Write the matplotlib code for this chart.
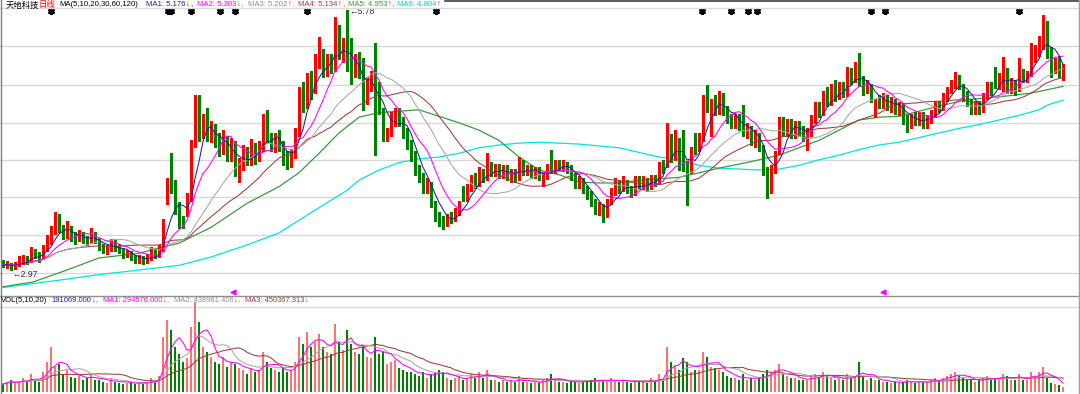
import numpy as np
import pandas as pd
import matplotlib
matplotlib.use("Agg")
import matplotlib.pyplot as plt
from matplotlib.lines import Line2D

# ---------------- data ----------------
opens = [3.05,3.02,3.04,3.00,3.03,3.05,3.10,3.07,3.17,3.12,
         3.10,3.20,3.30,3.40,3.50,3.42,3.35,3.40,3.33,3.30,
         3.36,3.30,3.28,3.34,3.30,3.22,3.18,3.20,3.28,3.22,
         3.17,3.14,3.16,3.10,3.08,3.10,3.07,3.10,3.15,3.12,
         3.20,3.72,4.14,3.90,3.66,3.50,3.58,3.76,4.35,4.80,
         4.45,4.62,4.40,4.50,4.35,4.28,4.38,4.20,4.30,4.02,
         4.10,4.25,4.15,4.30,4.20,4.28,4.60,4.40,4.30,4.40,
         4.32,4.15,4.12,4.20,4.45,4.90,4.75,5.05,4.90,5.20,
         5.32,5.10,5.25,5.15,5.55,5.30,5.50,5.35,5.08,5.25,
         5.20,4.80,4.98,5.10,4.95,4.70,4.40,4.45,4.55,4.68,
         4.58,4.45,4.32,4.20,4.05,3.98,3.84,3.90,3.70,3.55,
         3.50,3.48,3.55,3.52,3.60,3.86,3.76,3.85,3.95,3.90,
         4.02,3.96,4.10,4.02,4.08,4.00,4.06,3.98,4.02,3.96,
         4.14,4.04,4.06,4.00,4.05,3.92,3.98,4.20,4.06,4.12,
         4.08,4.12,4.06,3.98,3.90,3.94,3.84,3.78,3.70,3.62,
         3.66,3.56,3.70,3.82,3.90,3.84,3.92,3.84,3.80,3.92,
         3.88,3.94,3.86,3.96,3.92,4.10,4.10,4.40,4.18,4.38,
         4.44,4.10,4.05,4.42,4.28,4.40,4.85,4.45,4.82,4.68,
         4.85,4.70,4.60,4.54,4.62,4.70,4.46,4.50,4.38,4.42,
         4.30,4.05,3.82,4.05,4.24,4.58,4.46,4.56,4.45,4.55,
         4.48,4.40,4.45,4.60,4.72,4.66,4.92,4.78,4.92,4.85,
         4.95,4.88,5.10,5.02,5.24,5.00,4.92,4.96,4.70,4.80,
         4.76,4.82,4.74,4.80,4.70,4.74,4.60,4.52,4.62,4.58,
         4.64,4.54,4.60,4.66,4.76,4.72,4.84,4.92,4.98,5.06,
         4.96,4.86,4.78,4.72,4.76,4.70,4.84,4.96,5.12,4.98,
         4.92,5.12,4.92,4.98,4.92,5.12,5.04,5.10,5.26,5.32,
         5.40,5.62,5.34,5.14,5.22,5.08]
closes = [3.02,3.04,3.00,3.03,3.05,3.10,3.07,3.18,3.12,3.10,
          3.20,3.30,3.38,3.50,3.42,3.35,3.40,3.33,3.30,3.36,
          3.30,3.28,3.34,3.30,3.22,3.18,3.20,3.28,3.22,3.17,
          3.14,3.16,3.10,3.08,3.10,3.07,3.10,3.15,3.12,3.20,
          3.51,3.92,3.86,3.62,3.48,3.46,3.76,4.33,4.75,4.40,
          4.55,4.40,4.52,4.35,4.28,4.38,4.20,4.30,4.02,4.10,
          4.25,4.15,4.30,4.20,4.28,4.60,4.40,4.30,4.40,4.30,
          4.15,4.12,4.22,4.45,4.90,4.75,5.05,4.90,5.20,5.32,
          5.10,5.25,5.15,5.60,5.30,5.42,5.16,5.02,5.25,5.10,
          4.75,4.98,5.05,4.80,4.70,4.40,4.44,4.62,4.68,4.58,
          4.45,4.32,4.20,4.05,3.98,3.85,3.90,3.70,3.55,3.50,
          3.47,3.55,3.52,3.60,3.68,3.76,3.85,3.95,3.90,4.02,
          3.96,4.10,4.02,4.08,4.00,4.06,3.98,4.02,3.96,4.14,
          4.04,4.06,4.00,4.05,3.98,3.98,4.04,4.06,4.12,4.08,
          4.12,4.06,3.98,3.90,3.94,3.84,3.78,3.70,3.62,3.66,
          3.56,3.70,3.82,3.90,3.84,3.92,3.84,3.80,3.92,3.88,
          3.94,3.86,3.96,3.92,4.10,4.06,4.52,4.18,4.38,4.10,
          4.08,4.05,4.25,4.28,4.40,4.80,4.72,4.78,4.68,4.85,
          4.70,4.60,4.54,4.62,4.52,4.46,4.50,4.38,4.42,4.30,
          4.05,3.85,4.05,4.22,4.58,4.46,4.56,4.45,4.55,4.48,
          4.40,4.45,4.60,4.72,4.66,4.85,4.78,4.92,4.85,4.95,
          4.88,5.10,5.02,5.15,5.00,4.92,4.96,4.82,4.80,4.76,
          4.82,4.74,4.80,4.70,4.74,4.60,4.52,4.62,4.58,4.64,
          4.54,4.60,4.66,4.76,4.72,4.84,4.92,4.98,5.06,4.96,
          4.86,4.78,4.72,4.76,4.70,4.84,4.96,4.90,4.98,5.05,
          5.20,4.92,4.98,4.92,5.12,5.04,5.08,5.36,5.32,5.45,
          5.62,5.30,5.18,5.22,5.12,5.15]
highs = [3.08,3.07,3.05,3.06,3.12,3.13,3.12,3.22,3.20,3.16,
         3.24,3.35,3.45,3.60,3.58,3.46,3.50,3.44,3.38,3.40,
         3.38,3.34,3.42,3.38,3.32,3.25,3.24,3.31,3.30,3.25,
         3.20,3.19,3.18,3.13,3.13,3.12,3.14,3.22,3.20,3.24,
         3.52,3.96,4.23,3.94,3.70,3.55,3.80,4.37,4.86,4.86,
         4.65,4.72,4.58,4.55,4.45,4.48,4.42,4.40,4.36,4.18,
         4.32,4.30,4.38,4.34,4.36,4.66,4.70,4.45,4.45,4.48,
         4.36,4.25,4.28,4.50,4.95,5.00,5.10,5.12,5.30,5.49,
         5.36,5.30,5.30,5.70,5.62,5.48,5.78,5.48,5.30,5.32,
         5.26,5.05,5.12,5.42,5.00,4.72,4.50,4.68,4.72,4.72,
         4.62,4.50,4.37,4.25,4.10,4.02,3.96,3.92,3.72,3.60,
         3.55,3.58,3.60,3.64,3.72,3.88,3.90,4.00,4.02,4.08,
         4.06,4.23,4.14,4.12,4.12,4.10,4.10,4.06,4.06,4.19,
         4.16,4.10,4.10,4.08,4.08,4.02,4.12,4.27,4.16,4.16,
         4.16,4.14,4.10,4.02,3.98,3.96,3.88,3.82,3.74,3.70,
         3.68,3.74,3.86,3.96,3.94,3.98,3.94,3.88,3.98,3.98,
         3.98,3.96,4.00,4.00,4.14,4.16,4.56,4.44,4.48,4.40,
         4.48,4.15,4.30,4.45,4.45,4.86,4.97,4.82,4.86,4.90,
         4.88,4.74,4.66,4.66,4.66,4.75,4.56,4.52,4.48,4.45,
         4.32,4.08,4.10,4.26,4.62,4.62,4.60,4.60,4.58,4.58,
         4.52,4.50,4.64,4.78,4.78,4.90,4.95,4.98,5.02,5.00,
         5.00,5.16,5.15,5.22,5.31,5.06,5.02,4.98,4.82,4.86,
         4.88,4.86,4.84,4.82,4.78,4.76,4.64,4.66,4.68,4.68,
         4.68,4.64,4.70,4.80,4.80,4.88,4.95,5.02,5.11,5.08,
         4.98,4.90,4.82,4.80,4.80,4.88,5.00,5.00,5.16,5.10,
         5.27,5.15,5.04,5.02,5.26,5.14,5.12,5.42,5.40,5.50,
         5.72,5.66,5.38,5.26,5.28,5.20]
lows = [3.00,2.99,2.97,2.98,3.01,3.03,3.04,3.06,3.10,3.06,
        3.09,3.18,3.25,3.36,3.38,3.30,3.32,3.28,3.25,3.28,
        3.26,3.24,3.26,3.26,3.19,3.15,3.14,3.18,3.18,3.15,
        3.10,3.11,3.08,3.05,3.05,3.04,3.05,3.08,3.10,3.11,
        3.18,3.68,3.80,3.58,3.42,3.42,3.55,3.72,4.30,4.36,
        4.40,4.36,4.35,4.30,4.20,4.22,4.15,4.15,3.98,3.92,
        4.05,4.10,4.10,4.12,4.15,4.25,4.35,4.25,4.24,4.25,
        4.10,4.06,4.08,4.18,4.42,4.68,4.72,4.82,4.88,5.15,
        5.05,5.06,5.10,5.12,5.25,5.22,5.12,4.98,5.05,5.04,
        4.70,4.76,4.90,4.21,4.66,4.36,4.36,4.42,4.52,4.52,
        4.40,4.28,4.15,4.00,3.92,3.80,3.80,3.65,3.50,3.44,
        3.41,3.45,3.48,3.50,3.56,3.72,3.72,3.82,3.86,3.88,
        3.92,3.94,3.98,3.98,3.96,3.96,3.94,3.92,3.92,3.94,
        4.00,4.00,3.96,3.96,3.94,3.88,3.95,4.02,4.02,4.04,
        4.04,4.02,3.94,3.86,3.86,3.80,3.74,3.66,3.58,3.56,
        3.49,3.54,3.68,3.78,3.80,3.82,3.80,3.76,3.78,3.84,
        3.84,3.82,3.84,3.88,3.90,4.02,4.08,4.14,4.16,4.05,
        4.04,3.67,4.02,4.22,4.25,4.36,4.68,4.42,4.64,4.65,
        4.64,4.56,4.50,4.50,4.48,4.42,4.40,4.32,4.30,4.26,
        4.00,3.75,3.80,4.02,4.22,4.42,4.42,4.40,4.40,4.42,
        4.36,4.27,4.42,4.56,4.62,4.64,4.74,4.75,4.80,4.82,
        4.84,4.85,4.98,5.00,4.96,4.86,4.88,4.78,4.62,4.72,
        4.72,4.70,4.68,4.66,4.64,4.55,4.46,4.50,4.54,4.54,
        4.50,4.50,4.56,4.62,4.68,4.70,4.80,4.88,4.94,4.92,
        4.80,4.74,4.66,4.66,4.65,4.68,4.82,4.86,4.94,4.92,
        4.90,4.88,4.88,4.86,4.90,5.00,5.00,5.06,5.22,5.28,
        5.36,5.26,5.05,5.10,5.05,5.02]
# volume in 10,000 lots
volumes_wan = [28,35,42,32,35,49,35,63,42,35,
               70,105,158,88,98,63,77,53,49,56,
               42,49,63,42,42,35,32,49,35,32,
               28,32,35,28,32,28,35,49,35,56,
               193,252,217,158,133,105,119,228,315,245,
               158,140,123,105,98,123,88,105,98,84,
               77,63,84,70,77,140,105,84,77,70,
               84,70,77,105,193,168,210,158,175,203,
               158,140,133,238,175,147,217,168,140,133,
               158,123,119,193,133,140,98,105,112,84,
               77,70,70,63,56,70,49,63,70,77,
               70,49,42,49,56,42,49,63,49,70,
               49,77,42,42,35,42,35,42,35,56,
               35,35,32,35,32,42,49,63,42,35,
               35,32,42,35,32,35,39,42,49,35,
               42,35,49,42,35,42,35,32,42,35,
               35,32,49,35,63,42,158,105,91,77,
               119,105,70,77,77,140,123,88,84,77,
               70,56,49,49,42,63,42,49,42,49,
               63,77,70,77,98,63,56,49,49,42,
               42,42,56,63,49,70,56,49,42,49,
               42,63,49,56,105,56,42,49,42,42,
               35,35,32,35,32,35,42,35,32,35,
               35,35,42,49,42,49,56,63,70,56,
               49,42,42,35,42,49,56,42,49,42,
               63,56,42,42,63,42,42,70,56,70,
               88,49,32,28,25,19.1069]

# long moving averages (earlier history not shown)
ma60_idx = [0,7.5,16,24,34,39,44,52,61,69,74,79,84,89,94,104,114,119,124,129,
            134,139,144,149,154,159,169,174,179,187,194,199,204,209,214,219,224,
            234,241,249,257,265]
ma60_val = [2.79,2.84,2.97,3.10,3.15,3.21,3.26,3.43,3.69,3.87,4.02,4.23,4.45,4.62,
            4.67,4.70,4.56,4.48,4.37,4.19,4.05,4.00,3.92,3.91,3.91,3.94,3.97,4.02,
            4.07,4.14,4.21,4.29,4.37,4.48,4.59,4.62,4.63,4.74,4.81,4.84,4.88,4.953]
ma120_idx = [0,14,24,44,52,61,69,77,86,89,94,99,104,109,114,119,124,129,134,144,
             154,159,164,169,174,179,184,189,194,199,204,209,214,219,224,229,234,
             239,244,249,254,259,261,265]
ma120_val = [2.78,2.86,2.92,3.02,3.11,3.24,3.37,3.59,3.83,3.94,4.05,4.13,4.17,4.19,
             4.23,4.29,4.32,4.34,4.35,4.33,4.29,4.24,4.19,4.16,4.10,4.07,4.06,4.05,
             4.06,4.10,4.16,4.21,4.27,4.32,4.35,4.40,4.45,4.50,4.54,4.59,4.64,4.70,
             4.75,4.804]

event_idx = [12,41.25,42,47,54.25,58,76,108.25,174.75,182,186.25,188.5,217,220.5,254]
flag_idx = [57.5,220]

stock_name = "天地科技"
period = "日线"
ma_title = "MA(5,10,20,30,60,120)"
ma_labels = ["MA1: 5.176", "MA2: 5.303", "MA3: 5.202", "MA4: 5.134", "MA5: 4.953", "MA6: 4.804"]
ma_arrows = ["↓", "↓", "↑", "↑", "↑", "↑"]
vol_title = "VOL(5,10,20)"
vol_labels = ["191069.000", "MA1: 294576.000", "MA2: 438981.406", "MA3: 450367.313"]
vol_arrows = ["↓", "↓", "↓", "↓"]
high_label = "5.78"
low_label = "2.97"

# ---------------- figure ----------------
W, H = 1080, 394
fig = plt.figure(figsize=(W / 100, H / 100), dpi=100)
fig.patch.set_facecolor("white")
renderer = fig.canvas.get_renderer()

MAIN_TOP, MAIN_BOT = 0, 295
VOL_TOP, VOL_BOT = 296, 392
ax = fig.add_axes([0, 1 - MAIN_BOT / H, 1, (MAIN_BOT - MAIN_TOP) / H])
axv = fig.add_axes([0, 1 - VOL_BOT / H, 1, (VOL_BOT - VOL_TOP) / H])
for a in (ax, axv):
    a.set_axis_off()
    a.set_xlim(-0.75, 269.25)

P_BOT, P_TOP = 2.70, 5.886
ax.set_ylim(P_BOT, P_TOP)
def py(ypix):
    return P_TOP - (ypix - MAIN_TOP) * (P_TOP - P_BOT) / (MAIN_BOT - MAIN_TOP)

o = np.array(opens); c = np.array(closes); h = np.array(highs); l = np.array(lows)
v = np.array(volumes_wan)
n = len(c)
x = np.arange(n)

# gridlines
for yp in [46, 85, 123, 160, 197, 235, 273]:
    ax.axhline(py(yp), color="#d8d8d8", lw=1.0, zorder=0)

RED = "#ff0000"
GREEN = "#008000"
up = c >= o
cols = np.where(up, RED, GREEN)

# moving averages
cs = pd.Series(c)
ma5 = cs.rolling(5, min_periods=1).mean()
ma10 = cs.rolling(10, min_periods=1).mean()
ma20 = cs.rolling(20, min_periods=1).mean()
ma30 = cs.rolling(30, min_periods=1).mean()

ax.plot(ma120_idx, ma120_val, color="#00e5e5", lw=0.9, zorder=1)
ax.plot(ma60_idx, ma60_val, color="#3c9a3c", lw=0.9, zorder=1)

# candles
ax.vlines(x, l, h, colors=cols, lw=0.9, zorder=2, antialiased=False)
body_h = np.maximum(np.abs(c - o), 0.006)
ax.bar(x, body_h, bottom=np.minimum(o, c), width=0.7, color=cols,
       linewidth=0, zorder=3, antialiased=False)

ax.plot(x, ma30, color="#a03c3c", lw=0.75, zorder=4)
ax.plot(x, ma20, color="#a8a8a8", lw=0.75, zorder=4)
ax.plot(x, ma10, color="#ff00ff", lw=0.75, zorder=4)
ax.plot(x, ma5, color="#20209a", lw=0.75, zorder=4)

# event markers and flags
ax.plot(event_idx, [py(11)] * len(event_idx), ls="none", marker=(6, 2, 0),
        ms=5, mew=1.6, color="black", zorder=5)
ax.plot(flag_idx, [py(292)] * len(flag_idx), ls="none", marker="<", ms=3.5,
        color="#ff00ff", zorder=5)

FAM = ["Liberation Sans", "DejaVu Sans"]
CJK = ["Noto Sans CJK SC", "DejaVu Sans"]

# high / low labels
ih = int(np.argmax(h)); il = int(np.argmin(l))
ax.text(ih + 0.6, py(12), "←" + high_label, fontsize=6.2, family=FAM,
        color="#303030", ha="left", va="center", zorder=6)
ax.text(il + 0.3, py(275), "←" + low_label, fontsize=6.2, family=FAM,
        color="#303030", ha="left", va="center", zorder=6)

# volume
axv.set_ylim(0, 336)
vcols_face = np.where(up, "#ff7070", GREEN)
axv.bar(x, v, width=0.7, color=vcols_face, linewidth=0, antialiased=False, zorder=2)
vs = pd.Series(v)
axv.plot(x, vs.rolling(20, min_periods=1).mean(), color="#a03c3c", lw=0.75, zorder=3)
axv.plot(x, vs.rolling(10, min_periods=1).mean(), color="#a8a8a8", lw=0.75, zorder=3)
axv.plot(x, vs.rolling(5, min_periods=1).mean(), color="#ff00ff", lw=0.75, zorder=3)
axv.axhline(336 * (VOL_BOT - 307) / (VOL_BOT - VOL_TOP), color="#d8d8d8", lw=1.0, zorder=0)

# frame lines (figure pixels)
def hline(yp, x0, x1, color, lw=1.0):
    fig.add_artist(Line2D([x0 / W, x1 / W], [1 - yp / H, 1 - yp / H], color=color, lw=lw))
def vline(xp, y0, y1, color, lw=1.0):
    fig.add_artist(Line2D([xp / W, xp / W], [1 - y0 / H, 1 - y1 / H], color=color, lw=lw))

hline(8, 0, W, "#dcdcdc")
hline(295.5, 0, W, "#909090")
hline(0.5, 445, W, "#404040", lw=1.2)
vline(0.5, 0, H, "#808080")
vline(1078.5, 0, H, "#a0a0a0")

# header texts, laid out left to right using measured widths
def t(xp, yp, s, color, fam=FAM, size=6.0):
    tx = fig.text(xp / W, 1 - yp / H, s, color=color, fontsize=size, family=fam,
                  ha="left", va="center")
    bb = tx.get_window_extent(renderer=renderer)
    return bb.x1  # right edge in pixels

ty = 5
t(6, ty, stock_name, "black", CJK, 6.0)
t(39, ty, period, RED, CJK, 6.0)
t(59, ty, ma_title, "black", FAM, 5.6)
ma_colors = ["#20209a", "#ff00ff", "#909090", "#a03c3c", "#3c9a3c", "#00d0d0"]
starts = [146, 197, 248, 298, 348, 397]
for s0, lab, arr, col in zip(starts, ma_labels, ma_arrows, ma_colors):
    e = t(s0, ty, lab, col, FAM, 5.6)
    e = t(e + 0.5, ty, arr, RED if arr == "↑" else GREEN, FAM, 5.6)
    if lab != ma_labels[-1]:
        t(e, ty, ",", col, FAM, 5.6)

vy = 300.5
x0 = t(1, vy, vol_title, "black", FAM, 5.6) + 4
vcolors = ["#20209a", "#ff00ff", "#909090", "#a03c3c"]
for lab, arr, col in zip(vol_labels, vol_arrows, vcolors):
    e = t(x0, vy, lab, col, FAM, 5.4)
    e = t(e + 0.5, vy, arr, GREEN, FAM, 5.4)
    if lab != vol_labels[-1]:
        e = t(e, vy, ",", col, FAM, 5.4)
    x0 = e + 5

fig.savefig("out.png", dpi=100, facecolor="white")
